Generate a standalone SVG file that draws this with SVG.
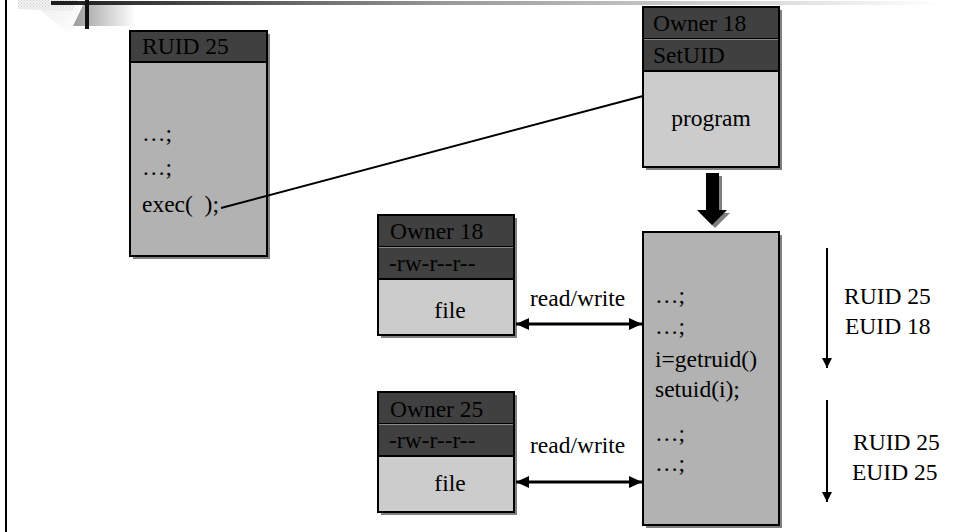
<svg xmlns="http://www.w3.org/2000/svg" width="957" height="532" viewBox="0 0 957 532">
<defs>
<style>
text{font-family:"Liberation Serif","Times New Roman",serif;font-size:23.5px;fill:#000}
.hdr{fill:#404040;stroke:#000;stroke-width:2}
.body1{fill:#b2b2b2;stroke:#000;stroke-width:2}
.body2{fill:#cccccc;stroke:#000;stroke-width:2}
.shadow{fill:#808080}
.sep{stroke:#8a8a8a;stroke-width:1}
.conn{stroke:#000;fill:none}
</style>
<linearGradient id="topbar" x1="0" y1="0" x2="1" y2="0">
<stop offset="0" stop-color="#1a1a1a"/>
<stop offset="0.45" stop-color="#9a9a9a"/>
<stop offset="1" stop-color="#ffffff"/>
</linearGradient>
<linearGradient id="grayblk" x1="0" y1="0" x2="1" y2="0">
<stop offset="0" stop-color="#9a9a9a"/>
<stop offset="1" stop-color="#ffffff"/>
</linearGradient>
<linearGradient id="soft" x1="0" y1="0" x2="1" y2="1">
<stop offset="0" stop-color="#e4e4e4"/>
<stop offset="1" stop-color="#ffffff"/>
</linearGradient>
<pattern id="hatch" width="3" height="3" patternUnits="userSpaceOnUse">
<rect width="3" height="3" fill="#f2f2f2"/>
<rect width="1" height="1" fill="#cfcfcf"/>
<rect x="1.5" y="1.5" width="1" height="1" fill="#cfcfcf"/>
</pattern>
<marker id="ah" viewBox="0 0 13 12" refX="13" refY="6" markerWidth="13" markerHeight="12" markerUnits="userSpaceOnUse" orient="auto-start-reverse">
<path d="M0,0 L13,6 L0,12 z" fill="#000"/>
</marker>
<marker id="ahs" viewBox="0 0 10 10" refX="10" refY="5" markerWidth="10" markerHeight="10" markerUnits="userSpaceOnUse" orient="auto">
<path d="M0,0 L10,5 L0,10 z" fill="#000"/>
</marker>
</defs>
<rect width="957" height="532" fill="#fff"/>
<!-- decoration -->
<g id="decoration">
<polygon points="18,0 78,0 72,11 18,9" fill="url(#hatch)"/>
<polygon points="40,10 80,5 70,35" fill="url(#soft)" opacity="0.6"/>
<polygon points="73,26 83,5 136,5 136,26" fill="url(#grayblk)"/>
<rect x="51" y="1" width="890" height="4" fill="url(#topbar)"/>
<rect x="85" y="0" width="4" height="29" fill="#111"/>
<rect x="5" y="0" width="2" height="532" fill="#000"/>
</g>
<!-- RUID box -->
<g id="caller">
<rect class="shadow" x="133" y="34" width="137" height="225"/>
<rect class="body1" x="130" y="31" width="137" height="225"/>
<rect class="hdr" x="130" y="31" width="137" height="31"/>
<text x="142" y="54">RUID 25</text>
<text x="142" y="141">…;</text>
<text x="142" y="175">…;</text>
<text x="142" y="212">exec(&#160;&#160;);</text>
</g>
<!-- setuid program -->
<g id="program">
<rect class="shadow" x="646" y="10" width="136" height="160"/>
<rect class="body2" x="643" y="7" width="136" height="160"/>
<rect class="hdr" x="643" y="7" width="136" height="32"/>
<rect class="hdr" x="643" y="39" width="136" height="32"/>
<line class="sep" x1="644" y1="39.5" x2="778" y2="39.5"/>
<text x="653" y="31">Owner 18</text>
<text x="653" y="63">SetUID</text>
<text x="711" y="126" text-anchor="middle">program</text>
</g>
<!-- running process -->
<g id="process">
<rect class="shadow" x="646" y="235" width="136" height="293"/>
<rect class="body1" x="643" y="232" width="136" height="293"/>
<text x="655" y="303">…;</text>
<text x="655" y="334">…;</text>
<text x="655" y="367">i=getruid()</text>
<text x="655" y="397">setuid(i);</text>
<text x="655" y="441">…;</text>
<text x="655" y="471">…;</text>
</g>
<!-- file owner 18 -->
<g id="file18">
<rect class="shadow" x="381" y="218" width="136" height="120"/>
<rect class="body2" x="378" y="215" width="136" height="120"/>
<rect class="hdr" x="378" y="215" width="136" height="32"/>
<rect class="hdr" x="378" y="247" width="136" height="32"/>
<line class="sep" x1="379" y1="247.5" x2="513" y2="247.5"/>
<text x="390" y="239">Owner 18</text>
<text x="389" y="271">-rw-r--r--</text>
<text x="450" y="318" text-anchor="middle">file</text>
</g>
<!-- file owner 25 -->
<g id="file25">
<rect class="shadow" x="381" y="395" width="136" height="120"/>
<rect class="body2" x="378" y="392" width="136" height="120"/>
<rect class="hdr" x="378" y="392" width="136" height="32"/>
<rect class="hdr" x="378" y="424" width="136" height="32"/>
<line class="sep" x1="379" y1="424.5" x2="513" y2="424.5"/>
<text x="390" y="417">Owner 25</text>
<text x="389" y="448">-rw-r--r--</text>
<text x="450" y="491" text-anchor="middle">file</text>
</g>
<!-- uid labels -->
<g id="uids1">
<text x="844" y="304">RUID 25</text>
<text x="845" y="334">EUID 18</text>
</g>
<g id="uids2">
<text x="853" y="450">RUID 25</text>
<text x="852" y="480">EUID 25</text>
</g>
<!-- connectors -->
<g id="connectors">
<line class="conn" x1="221" y1="208" x2="643" y2="96" stroke-width="2"/>
<polygon points="709,176 722,176 722,213 730,213 715,228 700,213 709,213" fill="#808080"/>
<polygon points="706,173 719,173 719,210 727,210 712,225 697,210 706,210" fill="#000"/>
<line class="conn" x1="516" y1="324" x2="642" y2="324" stroke-width="3" marker-start="url(#ah)" marker-end="url(#ah)"/>
<line class="conn" x1="516" y1="482" x2="642" y2="482" stroke-width="3" marker-start="url(#ah)" marker-end="url(#ah)"/>
<line class="conn" x1="827" y1="248" x2="827" y2="368" stroke-width="2" marker-end="url(#ahs)"/>
<line class="conn" x1="827" y1="400" x2="827" y2="502" stroke-width="2" marker-end="url(#ahs)"/>
<text x="530" y="306">read/write</text>
<text x="530" y="453">read/write</text>
</g>
</svg>
